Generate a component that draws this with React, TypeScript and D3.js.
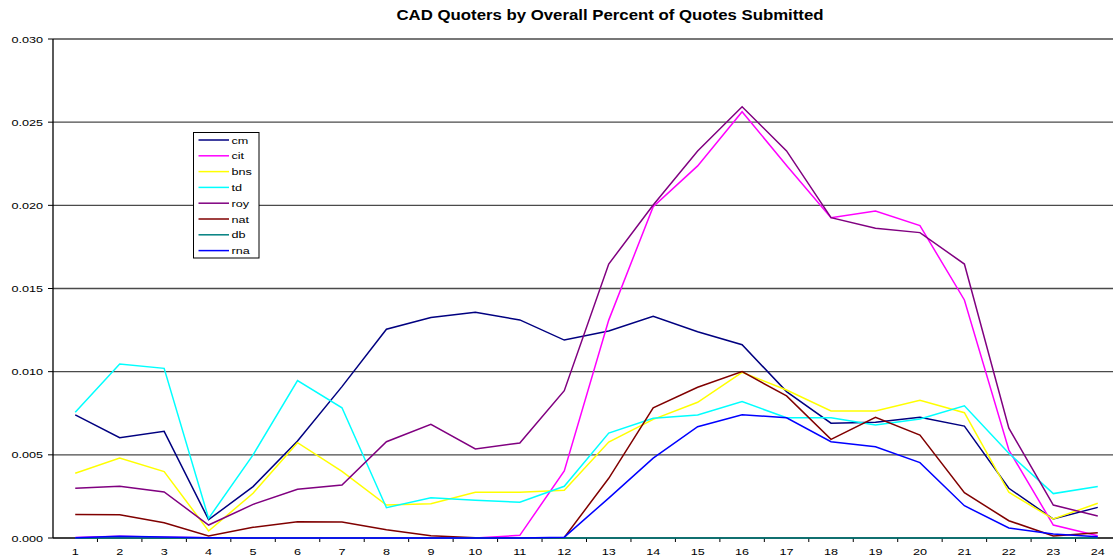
import React from "react";
import * as d3 from "d3";

const categories = Array.from({ length: 24 }, (_, i) => String(i + 1));
const yTicks = [0, 0.005, 0.01, 0.015, 0.02, 0.025, 0.03];

const cm = [0.0074, 0.00603, 0.00641, 0.0011, 0.00309, 0.00583, 0.0091, 0.01255, 0.01325, 0.01357, 0.01311, 0.0119, 0.01245, 0.01333, 0.0124, 0.01162, 0.0088, 0.0069, 0.00696, 0.00726, 0.00673, 0.00299, 0.00114, 0.00184];
const cit = [0.00003, 0.0001, 0.00005, 0.00002, 0, 0, 0, 0, 0, 0, 0.00016, 0.00403, 0.0131, 0.01992, 0.02237, 0.02563, 0.0224, 0.01926, 0.01966, 0.01878, 0.01431, 0.00529, 0.00078, 0.00014];
const bns = [0.00389, 0.00481, 0.00399, 0.00042, 0.00269, 0.00573, 0.004, 0.00198, 0.00206, 0.00275, 0.00275, 0.00287, 0.00577, 0.00713, 0.00816, 0.00996, 0.0089, 0.00764, 0.00764, 0.00828, 0.00753, 0.00275, 0.00114, 0.00209];
const td = [0.00756, 0.01046, 0.0102, 0.00118, 0.005, 0.00946, 0.00783, 0.00182, 0.00242, 0.00227, 0.00215, 0.00311, 0.00631, 0.0072, 0.0074, 0.0082, 0.00723, 0.00723, 0.00679, 0.00715, 0.00795, 0.00509, 0.00267, 0.00309];
const roy = [0.00299, 0.00311, 0.00277, 0.00078, 0.00202, 0.00293, 0.00319, 0.00579, 0.00683, 0.00535, 0.00571, 0.00886, 0.01647, 0.02002, 0.02327, 0.02593, 0.02327, 0.01926, 0.01862, 0.01836, 0.01647, 0.0066, 0.00198, 0.00132];
const nat = [0.00142, 0.0014, 0.00092, 0.00012, 0.00064, 0.00098, 0.00096, 0.0005, 0.00014, 0.00002, 0, 0.00003, 0.00359, 0.00782, 0.00906, 0.01, 0.00854, 0.00593, 0.00726, 0.00619, 0.00272, 0.00104, 0.00012, 0.00032];
const db = [0, 0, 0, 0, 0, 0, 0, 0, 0, 0, 0, 0, 0, 0, 0, 0, 0, 0, 0, 0, 0, 0, 0, 0];
const rna = [0.00002, 0.0001, 0.00006, 0.00002, 0, 0, 0, 0, 0, 0, 0, 0.00005, 0.0024, 0.0048, 0.00669, 0.00741, 0.00723, 0.00579, 0.00549, 0.00453, 0.00194, 0.0006, 0.00024, 0.00008];

const seriesNames = ["cm", "cit", "bns", "td", "roy", "nat", "db", "rna"];
const seriesValues = [cm, cit, bns, td, roy, nat, db, rna];
const seriesColors = ["#000080", "#FF00FF", "#FFFF00", "#00FFFF", "#800080", "#800000", "#008080", "#0000FF"];

const W = 1113;
const H = 560;
const left = 53;
const right = 1120;
const top = 39;
const bottom = 538;

const SX = 1.33; // horizontal stretch of small labels in the original picture

function StretchText(props: { x: number; y: number; sx: number; anchor: string; size: number; bold?: boolean; children: React.ReactNode }) {
  return (
    <text
      transform={`translate(${props.x},${props.y}) scale(${props.sx},1)`}
      textAnchor={props.anchor}
      fontSize={props.size}
      fontWeight={props.bold ? "bold" : "normal"}
      fill="#000"
    >
      {props.children}
    </text>
  );
}

export default function App() {
  const x = d3.scaleBand().domain(categories).range([left, right]).padding(0);
  const y = d3.scaleLinear().domain([0, 0.03]).range([bottom, top]);
  const cx = (c: string) => (x(c) as number) + x.bandwidth() / 2;
  const line = d3
    .line<number>()
    .x((_, i) => cx(categories[i]))
    .y((v) => y(v));
  const font = "Arial, 'Liberation Sans', sans-serif";
  const legendX = 193.5;
  const legendY = 132.5;
  const legendStep = 15.8;

  return (
    <svg width={W} height={H} style={{ position: "absolute", left: 0, top: 0, background: "#fff" }} fontFamily={font}>
      <rect x={0} y={0} width={W} height={H} fill="#fff" />
      <StretchText x={610} y={20} sx={1.12} anchor="middle" size={15} bold>
        CAD Quoters by Overall Percent of Quotes Submitted
      </StretchText>
      {yTicks.map((t) => (
        <g key={t}>
          {t > 0 && <line x1={left} x2={W} y1={y(t)} y2={y(t)} stroke="#4a4a4a" strokeWidth={1.3} />}
          <line x1={left - 5} x2={left} y1={y(t)} y2={y(t)} stroke="#000" strokeWidth={1} />
          <StretchText x={43} y={y(t) + 3.5} sx={SX} anchor="end" size={9.5}>
            {t.toFixed(3)}
          </StretchText>
        </g>
      ))}
      <line x1={left} x2={left} y1={top} y2={bottom} stroke="#000" strokeWidth={1.3} />
      <line x1={left} x2={W} y1={bottom} y2={bottom} stroke="#000" strokeWidth={1.3} />
      {categories.map((c) => (
        <g key={c}>
          <line x1={(x(c) as number) + x.bandwidth()} x2={(x(c) as number) + x.bandwidth()} y1={bottom} y2={bottom + 4} stroke="#000" />
          <StretchText x={cx(c)} y={555} sx={SX} anchor="middle" size={9.5}>
            {c}
          </StretchText>
        </g>
      ))}
      {seriesValues.map((vals, i) => (
        <path key={seriesNames[i]} d={line(vals) as string} fill="none" stroke={seriesColors[i]} strokeWidth={1.5} strokeLinejoin="miter" />
      ))}
      <rect x={legendX} y={legendY} width={65.5} height={125.5} fill="#fff" stroke="#000" strokeWidth={1} />
      {seriesNames.map((n, i) => (
        <g key={n}>
          <line x1={legendX + 5} x2={legendX + 35.5} y1={140 + i * legendStep} y2={140 + i * legendStep} stroke={seriesColors[i]} strokeWidth={1.5} />
          <StretchText x={legendX + 38} y={143.5 + i * legendStep} sx={SX} anchor="start" size={9.5}>
            {n}
          </StretchText>
        </g>
      ))}
    </svg>
  );
}
